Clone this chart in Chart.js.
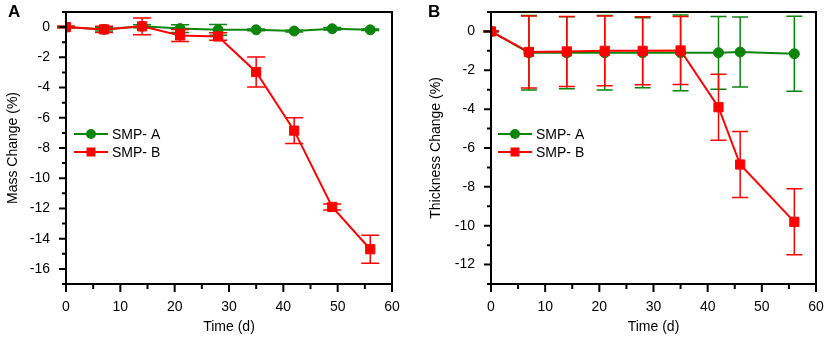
<!DOCTYPE html>
<html lang="en">
<head>
<meta charset="utf-8" />
<title>Mass and thickness change</title>
<style>
  * { margin: 0; padding: 0; }
  body { background: #fff; width: 830px; height: 343px; overflow: hidden; }
  .panel { position: absolute; top: 0; width: 415px; height: 343px; }
  #panelA { left: 0; }
  #panelB { left: 415px; }
</style>
</head>
<body>
<div class="panel" id="panelA"><canvas id="chartA"></canvas></div>
<div class="panel" id="panelB"><canvas id="chartB"></canvas></div>

<script src="https://cdn.jsdelivr.net/npm/chart.js"></script>
<script>
// panel A - mass change
const massDays = [0, 7, 14, 21, 28, 35, 42, 49, 56];
const massA = [0, -0.15, 0.05, -0.1, -0.18, -0.18, -0.26, -0.11, -0.18];
const massAErr = [0.05, 0.1, 0.1, 0.25, 0.36, 0.06, 0.06, 0.08, 0.05];
const massB = [0, -0.15, 0.05, -0.55, -0.62, -2.97, -6.85, -11.9, -14.7];
const massBErr = [0.05, 0.2, 0.55, 0.4, 0.25, 1.0, 0.85, 0.2, 0.93];

// panel B - thickness change
const thickDays = [0, 7, 14, 21, 28, 35, 42, 46, 56];
const thickA = [0, -1.1, -1.1, -1.1, -1.1, -1.1, -1.1, -1.06, -1.15];
const thickAErr = [0.02, 1.92, 1.85, 1.92, 1.8, 1.95, 1.87, 1.8, 1.93];
const thickB = [0, -1.06, -1.03, -1.0, -1.0, -0.98, -3.9, -6.85, -9.8];
const thickBErr = [0.02, 1.85, 1.8, 1.8, 1.75, 1.75, 1.7, 1.7, 1.7];

const seriesNames = ["SMP- A", "SMP- B"];
const GREEN = "#0b850b";
const RED = "#ff0000";

Chart.defaults.font.family = "Arial, 'Liberation Sans', sans-serif";
Chart.defaults.font.size = 14;
Chart.defaults.color = "#000";

function pts(xs, ys) {
  return xs.map((x, i) => ({ x: x, y: ys[i] }));
}

// error bars drawn just before each dataset so red sits on top of green
const errorBars = {
  id: "errorBars",
  beforeDatasetDraw(chart, args) {
    const ds = chart.data.datasets[args.index];
    const y = chart.scales.y;
    const ctx = chart.ctx;
    const cap = chart.options.plugins.errorBars.cap;
    ctx.save();
    ctx.strokeStyle = ds.borderColor;
    ctx.lineWidth = 1.5;
    args.meta.data.forEach((p, i) => {
      const v = ds.data[i].y;
      const e = ds.errors[i];
      const top = y.getPixelForValue(v + e);
      const bot = y.getPixelForValue(v - e);
      ctx.beginPath();
      ctx.moveTo(p.x, top);
      ctx.lineTo(p.x, bot);
      ctx.moveTo(p.x - cap, top);
      ctx.lineTo(p.x + cap, top);
      ctx.moveTo(p.x - cap, bot);
      ctx.lineTo(p.x + cap, bot);
      ctx.stroke();
    });
    ctx.restore();
  },
};

// frame, tick marks, in-plot legend and panel letter
const decorations = {
  id: "decorations",
  afterDraw(chart) {
    const { ctx, chartArea: { left, right, top, bottom }, scales: { x, y } } = chart;
    const opts = chart.options.plugins.decorations;
    ctx.save();
    ctx.strokeStyle = "#000";
    ctx.lineWidth = 2;
    ctx.strokeRect(left, top, right - left, bottom - top);

    ctx.beginPath();
    x.ticks.forEach((t) => {
      const px = x.getPixelForValue(t.value);
      const len = t.value % 10 === 0 ? 8 : 5;
      ctx.moveTo(px, bottom);
      ctx.lineTo(px, bottom + len);
    });
    y.ticks.forEach((t) => {
      const py = y.getPixelForValue(t.value);
      const len = t.value % 2 === 0 ? 7 : 4;
      ctx.moveTo(left, py);
      ctx.lineTo(left - len, py);
    });
    ctx.stroke();

    // legend
    const lx = left + opts.legendX;
    chart.data.datasets.forEach((ds, i) => {
      const ly = opts.legendY + i * 18;
      ctx.strokeStyle = ds.borderColor;
      ctx.lineWidth = 2;
      ctx.beginPath();
      ctx.moveTo(lx, ly);
      ctx.lineTo(lx + 34, ly);
      ctx.stroke();
      ctx.fillStyle = ds.borderColor;
      if (ds.pointStyle === "rect") {
        ctx.fillRect(lx + 17 - 4.5, ly - 4.5, 9, 9);
      } else {
        ctx.beginPath();
        ctx.arc(lx + 17, ly, 5, 0, Math.PI * 2);
        ctx.fill();
      }
      ctx.fillStyle = "#000";
      ctx.font = "14px Arial, 'Liberation Sans', sans-serif";
      ctx.textAlign = "left";
      ctx.textBaseline = "middle";
      ctx.fillText(ds.label, lx + 38, ly + 1);
    });

    ctx.font = "bold 17px Arial, 'Liberation Sans', sans-serif";
    ctx.textAlign = "left";
    ctx.textBaseline = "middle";
    ctx.fillStyle = "#000";
    ctx.fillText(opts.letter, opts.letterX, 12);
    ctx.restore();
  },
};

function makeChart(canvasId, days, a, aErr, b, bErr, cfg) {
  return new Chart(document.getElementById(canvasId), {
    type: "line",
    data: {
      datasets: [
        {
          label: seriesNames[0],
          data: pts(days, a),
          errors: aErr,
          borderColor: GREEN,
          backgroundColor: GREEN,
          borderWidth: 2,
          pointStyle: "circle",
          pointRadius: 5,
          pointBorderWidth: 1,
          order: 1,
        },
        {
          label: seriesNames[1],
          data: pts(days, b),
          errors: bErr,
          borderColor: RED,
          backgroundColor: RED,
          borderWidth: 2,
          pointStyle: "rect",
          pointRadius: 6.5,
          pointBorderWidth: 1,
          order: 0,
        },
      ],
    },
    options: {
      responsive: true,
      maintainAspectRatio: false,
      animation: false,
      events: [],
      layout: { padding: { top: 12, right: cfg.padRight, left: 0, bottom: 0 } },
      plugins: {
        legend: { display: false },
        tooltip: { enabled: false },
        errorBars: { cap: cfg.cap },
        decorations: {
          legendX: cfg.legendX,
          legendY: 134,
          letter: cfg.letter,
          letterX: cfg.letterX,
        },
      },
      scales: {
        x: {
          type: "linear",
          min: 0,
          max: 60,
          grid: { display: false, drawTicks: false },
          border: { display: true, color: "#000", width: 2 },
          ticks: {
            stepSize: 5,
            padding: 15,
            maxRotation: 0,
            autoSkip: false,
            callback: (v) => (v % 10 === 0 ? v : ""),
          },
          title: {
            display: true,
            text: "Time (d)",
            font: { size: 14 },
            padding: { top: 0, bottom: 7 },
          },
          afterFit: (s) => {
            s.height = 59;
            s.paddingLeft = 0;
            s.paddingRight = 0;
          },
        },
        y: {
          min: cfg.yMin,
          max: 1,
          grid: { display: false, drawTicks: false },
          border: { display: true, color: "#000", width: 2 },
          ticks: {
            stepSize: 1,
            padding: 16,
            autoSkip: false,
            callback: (v) => (v % 2 === 0 ? v : ""),
          },
          title: {
            display: true,
            text: cfg.yTitle,
            font: { size: 14 },
            padding: { top: cfg.yTitlePad, bottom: 0 },
          },
          afterFit: (s) => {
            s.width = cfg.yWidth;
            s.paddingTop = 0;
            s.paddingBottom = 0;
          },
        },
      },
    },
    plugins: [errorBars, decorations],
  });
}

makeChart("chartA", massDays, massA, massAErr, massB, massBErr, {
  yMin: -17,
  yTitle: "Mass Change (%)",
  yTitlePad: 5,
  yWidth: 66,
  padRight: 23,
  cap: 9,
  legendX: 8,
  letter: "A",
  letterX: 8,
});

makeChart("chartB", thickDays, thickA, thickAErr, thickB, thickBErr, {
  yMin: -13,
  yTitle: "Thickness Change (%)",
  yTitlePad: 13,
  yWidth: 76,
  padRight: 14,
  cap: 8,
  legendX: 7,
  letter: "B",
  letterX: 13,
});
</script>
</body>
</html>
